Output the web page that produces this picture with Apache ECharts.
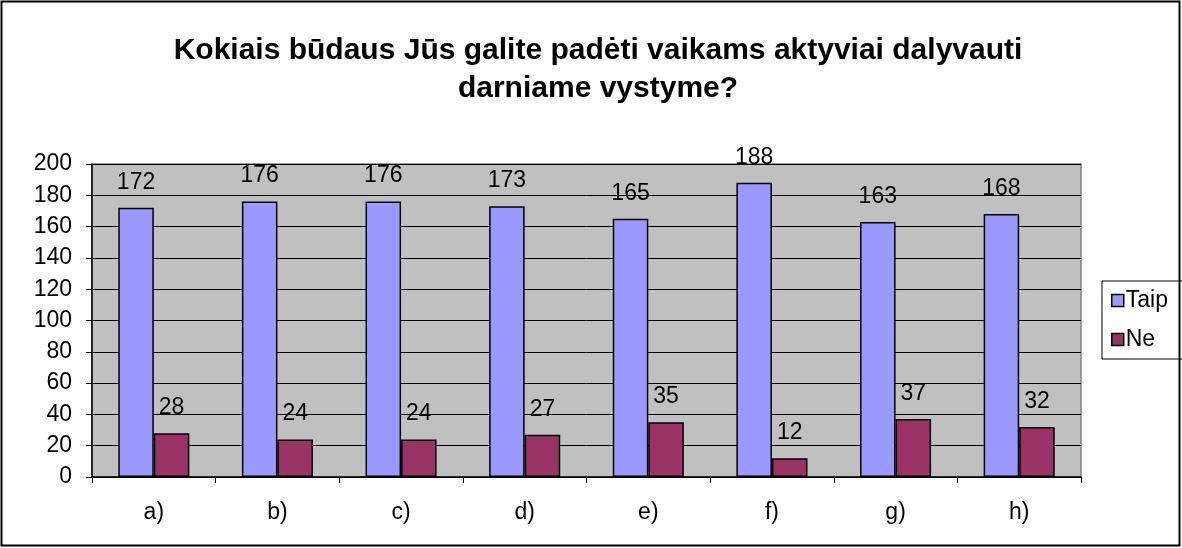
<!DOCTYPE html>
<html>
<head>
<meta charset="utf-8">
<script src="https://cdn.jsdelivr.net/npm/echarts@6/dist/echarts.min.js"></script>
<style>
html, body { margin: 0; padding: 0; background: #fff; }
#chart { width: 1182px; height: 548px; }
</style>
</head>
<body>
<div id="chart"></div>
<script>
var categories = ['a)', 'b)', 'c)', 'd)', 'e)', 'f)', 'g)', 'h)'];
var taip = [172, 176, 176, 173, 165, 188, 163, 168];
var ne = [28, 24, 24, 27, 35, 12, 37, 32];
var yTicks = { min: 0, max: 200, interval: 20 };

var chart = echarts.init(document.getElementById('chart'));

var labelStyle = {
	show: true,
	position: 'top',
	distance: 14,
	color: '#000',
	fontSize: 23,
	fontFamily: 'Liberation Sans, Arial, sans-serif'
};

var option = {
	animation: false,
	backgroundColor: '#fff',
	textStyle: { fontFamily: 'Liberation Sans, Arial, sans-serif' },
	title: {
		text: 'Kokiais būdaus Jūs galite padėti vaikams aktyviai dalyvauti\ndarniame vystyme?',
		left: 593,
		top: 27,
		textAlign: 'center',
		textStyle: {
			fontSize: 30,
			fontWeight: 'bold',
			color: '#000',
			lineHeight: 38,
			fontFamily: 'Liberation Sans, Arial, sans-serif'
		}
	},
	graphic: [{
		type: 'rect',
		shape: { x: 1.5, y: 1.5, width: 1178, height: 544 },
		style: { fill: null, stroke: '#000', lineWidth: 2 },
		z: 100
	}, {
		type: 'rect',
		shape: { x: 1102, y: 281, width: 90, height: 78 },
		style: { fill: '#fff', stroke: '#000', lineWidth: 1 },
		z: 0
	}],
	legend: {
		orient: 'vertical',
		left: 1106,
		top: 284,
		itemWidth: 12,
		itemHeight: 12,
		itemGap: 16,
		icon: 'rect',
		textStyle: { fontSize: 23, color: '#000', padding: [0, 0, 0, -3] },
		data: [
			{ name: 'Taip', itemStyle: { borderColor: '#000', borderWidth: 1.5 } },
			{ name: 'Ne', itemStyle: { borderColor: '#000', borderWidth: 1.5 } }
		]
	},
	grid: {
		left: 92,
		top: 164,
		width: 989,
		height: 313,
		show: true,
		backgroundColor: '#c0c0c0',
		borderColor: '#808080',
		borderWidth: 1.5
	},
	xAxis: {
		type: 'category',
		data: categories,
		axisLine: { lineStyle: { color: '#000', width: 1.5 } },
		axisTick: { show: true, length: 6, lineStyle: { color: '#000' } },
		axisLabel: { color: '#000', fontSize: 23, margin: 24 }
	},
	yAxis: {
		type: 'value',
		min: yTicks.min,
		max: yTicks.max,
		interval: yTicks.interval,
		axisLine: { show: true, lineStyle: { color: '#000', width: 1.5 } },
		axisTick: { show: true, length: 6, lineStyle: { color: '#000' } },
		axisLabel: { color: '#000', fontSize: 23, margin: 20 },
		splitLine: { lineStyle: { color: '#000', width: 1 } }
	},
	series: [{
		name: 'Taip',
		type: 'bar',
		data: taip,
		barGap: '0%',
		barCategoryGap: '42.5%',
		itemStyle: { color: '#9999ff', borderColor: '#000', borderWidth: 1.5 },
		label: labelStyle
	}, {
		name: 'Ne',
		type: 'bar',
		data: ne,
		itemStyle: { color: '#993366', borderColor: '#000', borderWidth: 1.5 },
		label: labelStyle
	}]
};

chart.setOption(option);
</script>
</body>
</html>
